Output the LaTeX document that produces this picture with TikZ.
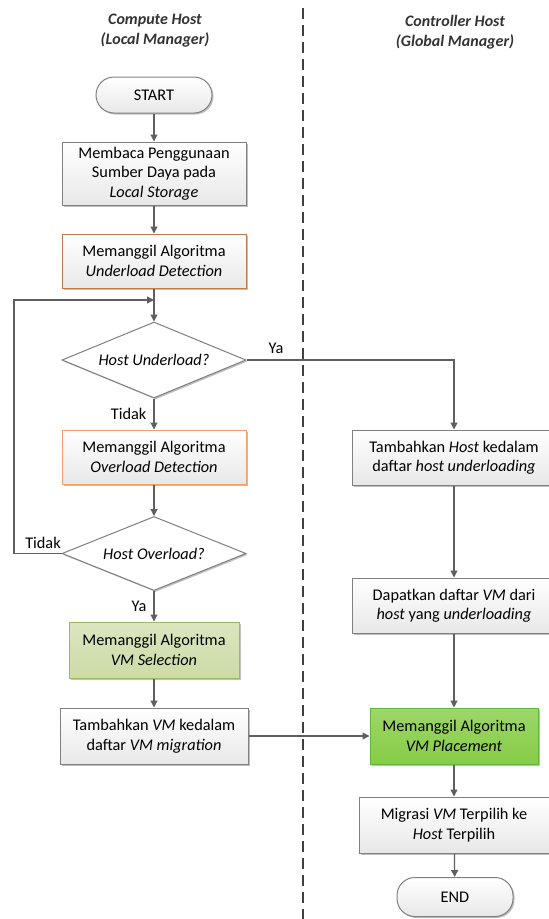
\documentclass[tikz,border=0pt]{standalone}
\usepackage{fontspec}
\setmainfont{Carlito}
\usetikzlibrary{arrows.meta,shapes.geometric,shadows}

\definecolor{linegray}{HTML}{5F5F5F}
\definecolor{boxborder}{HTML}{808080}
\definecolor{orangeA}{HTML}{C07A4A}
\definecolor{orangeB}{HTML}{F0A060}
\definecolor{olivefill}{HTML}{CCDBA6}
\definecolor{oliveborder}{HTML}{9BBB59}
\definecolor{greenfill}{HTML}{86CC45}
\definecolor{greenborder}{HTML}{5FB83A}

\tikzset{
  base/.style={font=\fontsize{16.3}{19.5}\selectfont, align=center, inner sep=0pt,
    drop shadow={shadow xshift=1.5pt, shadow yshift=-1.5pt, fill=black, opacity=0.25}},
  procbox/.style={base, rectangle, draw=boxborder, line width=1pt,
    top color=white, bottom color=black!9, minimum width=#1},
  procbox/.default=184pt,
  terminal/.style={base, rectangle, rounded corners=18pt, draw=boxborder, line width=1pt,
    top color=white, bottom color=black!9, minimum width=116pt},
  decision/.style={base, diamond, shape aspect=2.4, draw=boxborder, line width=1pt,
    fill=white, minimum width=184pt, minimum height=76pt},
  flow/.style={draw=linegray, line width=1.2pt, -{Triangle[length=7pt,width=7pt]}},
  lbl/.style={font=\fontsize{16.3}{18}\selectfont, inner sep=0pt},
  lane/.style={font=\fontsize{16}{20}\selectfont\bfseries\itshape, align=center, text=black!80}
}

\begin{document}
\begin{tikzpicture}[x=1pt,y=-1pt]
\clip (0,0) rectangle (549,919);
\fill[white] (0,0) rectangle (549,919);

% lane divider and headings
\draw[draw=black!75, line width=1.8pt, dash pattern=on 11pt off 6pt] (303,8) -- (303,919);
\node[lane] (laneL) at (155,31) {Compute Host\\(Local Manager)};
\node[lane] (laneR) at (455,32) {Controller Host\\(Global Manager)};

% local manager column
\node[terminal, minimum height=36pt] (start) at (154,95) {START};
\node[procbox, minimum height=63pt] (read) at (154,173.5)
  {Membaca Penggunaan\\Sumber Daya pada\\\textit{Local Storage}};
\node[procbox, minimum height=54pt, draw=orangeA] (under) at (154,261)
  {Memanggil Algoritma\\\textit{Underload Detection}};
\coordinate (join) at (154,300);
\node[decision] (dunder) at (154,360) {\textit{Host Underload?}};
\node[procbox, minimum height=54pt, draw=orangeB] (over) at (154,457)
  {Memanggil Algoritma\\\textit{Overload Detection}};
\node[decision, minimum height=74pt] (dover) at (154,553.5) {\textit{Host Overload?}};
\node[procbox=170pt, minimum height=56pt, draw=oliveborder,
  top color=olivefill!70, bottom color=olivefill] (select) at (154,650)
  {Memanggil Algoritma\\\textit{VM Selection}};
\node[procbox=188pt, minimum height=56pt] (addvm) at (154,736)
  {Tambahkan \textit{VM} kedalam\\daftar \textit{VM migration}};
\coordinate (loopB) at (14,553.5);
\coordinate (loopT) at (14,300);

% global manager column
\node[procbox=204pt, minimum height=55pt] (addhost) at (454,457.5)
  {Tambahkan \textit{Host} kedalam\\daftar \textit{host underloading}};
\node[procbox=204pt, minimum height=55pt] (getvm) at (454,605.5)
  {Dapatkan daftar \textit{VM} dari\\\textit{host} yang \textit{underloading}};
\node[procbox=168pt, minimum height=56pt, draw=greenborder,
  top color=greenfill!80, bottom color=greenfill] (place) at (454,736)
  {Memanggil Algoritma\\\textit{VM Placement}};
\node[procbox=190pt, minimum height=56pt] (migrate) at (454,825)
  {Migrasi \textit{VM} Terpilih ke\\\textit{Host} Terpilih};
\node[terminal, minimum height=39pt] (finish) at (455,897) {END};

% connectors
\draw[flow] (start) -- (read);
\draw[flow] (read) -- (under);
\draw[flow] (under) -- (dunder);
\draw[flow] (dunder) -- node[lbl, pos=0.5, left=7pt] (tidak1) {Tidak} (over);
\draw[flow] (over) -- (dover);
\draw[flow] (dover) -- node[lbl, pos=0.5, left=7pt] (ya2) {Ya} (select);
\draw[flow] (select) -- (addvm);
\draw[flow] (dover.west) -- (loopB) -- (loopT) -- (join);
\draw[flow] (dunder.east) -| (addhost.north);
\node[lbl] (ya1) at (276,348) {Ya};
\node[lbl] (tidak2) at (43,543) {Tidak};
\draw[flow] (addvm) -- (place);
\draw[flow] (addhost) -- (getvm);
\draw[flow] (getvm) -- (place);
\draw[flow] (place) -- (migrate);
\draw[flow] (migrate) -- (finish);
\end{tikzpicture}
\end{document}
